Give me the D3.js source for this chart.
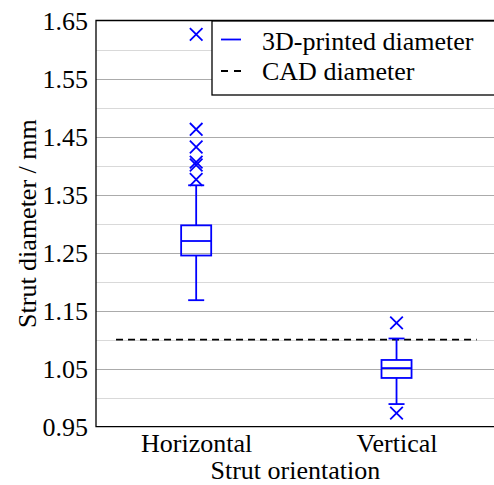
<!DOCTYPE html>
<html>
<head>
<meta charset="utf-8">
<script src="https://cdn.jsdelivr.net/npm/d3@7"></script>
</head>
<body style="margin:0">
<svg id="strut-box" width="494" height="485"></svg>
<script>
// categories and box statistics
const categories = ['Horizontal', 'Vertical'];
const lowerWhisker = [1.168, 0.989];
const q1 = [1.245, 1.034];
const median = [1.270, 1.051];
const q3 = [1.297, 1.065];
const upperWhisker = [1.366, 1.102];
const outliers = [
	[1.626, 1.4625, 1.432, 1.406, 1.401, 1.376],
	[1.129, 0.9735]
];
const cadDiameter = 1.1;
const majorTicks = [0.95, 1.05, 1.15, 1.25, 1.35, 1.45, 1.55, 1.65];
const minorTicks = [1.0, 1.1, 1.2, 1.3, 1.4, 1.5, 1.6];
const legendLabels = ['3D-printed diameter', 'CAD diameter'];

const blue = '#0000ff';
const fontSize = 26;
const plotLeft = 96, plotRight = 496.7, plotTop = 20.5, plotBottom = 426.7;

const svg = d3.select('#strut-box');

function serifText(sel) {
	sel.attr('font-size', fontSize).style('font-family', '"Liberation Serif"').attr('fill', '#000');
}

const x = d3.scalePoint().domain(categories).range([plotLeft, plotRight]).padding(0.5);
const xLin = d3.scaleLinear().domain([0.5, 2.5]).range([plotLeft, plotRight]);
const y = d3.scaleLinear().domain([0.95, 1.65]).range([plotBottom, plotTop]);

// grid
const grid = svg.append('g');
grid.selectAll('line.minor')
	.data(minorTicks)
	.join('line')
	.attr('class', 'minor')
	.attr('x1', plotLeft).attr('x2', plotRight)
	.attr('y1', (d) => Math.round(y(d)) + 0.5).attr('y2', (d) => Math.round(y(d)) + 0.5)
	.attr('stroke', '#d9d9d9').attr('stroke-width', 1.2);
grid.selectAll('line.major')
	.data(majorTicks.slice(1, -1))
	.join('line')
	.attr('class', 'major')
	.attr('x1', plotLeft).attr('x2', plotRight)
	.attr('y1', (d) => Math.round(y(d)) + 0.5).attr('y2', (d) => Math.round(y(d)) + 0.5)
	.attr('stroke', '#ababab').attr('stroke-width', 1.2);

// y tick labels
const yAxis = d3.axisLeft(y).tickValues(majorTicks).tickSize(0).tickPadding(8).tickFormat(d3.format('.2f'));
const gy = svg.append('g').attr('transform', `translate(${plotLeft},0)`).call(yAxis);
gy.attr('font-family', null).attr('font-size', null);
gy.select('.domain').remove();
gy.selectAll('text').attr('dy', '0.34em').call(serifText);

// x tick labels
const xAxis = d3.axisBottom(x).tickSize(0).tickPadding(0);
const gx = svg.append('g').attr('transform', `translate(0,${plotBottom})`).call(xAxis);
gx.attr('font-family', null).attr('font-size', null);
gx.select('.domain').remove();
gx.selectAll('text').attr('dy', null).attr('y', 25.5).call(serifText);

// frame
svg.append('path')
	.attr('d', `M${plotRight},${plotTop}H${plotLeft}V${plotBottom}H${plotRight}`)
	.attr('fill', 'none').attr('stroke', '#000').attr('stroke-width', 1.3);

// CAD line
svg.append('line')
	.attr('x1', xLin(0.6)).attr('x2', xLin(2.4))
	.attr('y1', y(cadDiameter)).attr('y2', y(cadDiameter))
	.attr('stroke', '#000').attr('stroke-width', 1.8).attr('stroke-dasharray', '7,5');

// boxes
const boxW = xLin(0.075) - xLin(0);
const capW = xLin(0.04) - xLin(0);
const boxes = svg.append('g').attr('stroke', blue).attr('stroke-width', 1.8).attr('fill', 'none');
categories.forEach((c, i) => {
	const cx = x(c);
	const g = boxes.append('g');
	g.append('line').attr('x1', cx).attr('x2', cx).attr('y1', y(q3[i])).attr('y2', y(upperWhisker[i]));
	g.append('line').attr('x1', cx).attr('x2', cx).attr('y1', y(q1[i])).attr('y2', y(lowerWhisker[i]));
	g.append('line').attr('x1', cx - capW).attr('x2', cx + capW).attr('y1', y(upperWhisker[i])).attr('y2', y(upperWhisker[i]));
	g.append('line').attr('x1', cx - capW).attr('x2', cx + capW).attr('y1', y(lowerWhisker[i])).attr('y2', y(lowerWhisker[i]));
	g.append('rect').attr('x', cx - boxW).attr('width', 2 * boxW)
		.attr('y', y(q3[i])).attr('height', y(q1[i]) - y(q3[i]));
	g.append('line').attr('x1', cx - boxW).attr('x2', cx + boxW).attr('y1', y(median[i])).attr('y2', y(median[i]));
	const s = 6.3;
	g.selectAll('path.out')
		.data(outliers[i])
		.join('path')
		.attr('class', 'out')
		.attr('d', (d) => `M${cx - s},${y(d) - s}L${cx + s},${y(d) + s}M${cx - s},${y(d) + s}L${cx + s},${y(d) - s}`);
});

// legend
const legend = svg.append('g').attr('transform', 'translate(212,21)');
legend.append('rect').attr('x', 0).attr('y', 0).attr('width', 300).attr('height', 74)
	.attr('fill', '#fff').attr('stroke', '#000').attr('stroke-width', 1.3);
legend.append('line').attr('x1', 9).attr('x2', 29).attr('y1', 18.5).attr('y2', 18.5)
	.attr('stroke', blue).attr('stroke-width', 1.8);
legend.append('line').attr('x1', 9).attr('x2', 29).attr('y1', 50).attr('y2', 50)
	.attr('stroke', '#000').attr('stroke-width', 1.8).attr('stroke-dasharray', '7,6');
legend.selectAll('text')
	.data(legendLabels)
	.join('text')
	.attr('x', 50)
	.attr('y', (d, i) => 28.5 + i * 30.5)
	.call(serifText)
	.text((d) => d);

// axis titles
svg.append('text')
	.attr('x', (plotLeft + plotRight) / 2 - 1).attr('y', 479)
	.attr('text-anchor', 'middle')
	.call(serifText)
	.text('Strut orientation');
svg.append('text')
	.attr('transform', `translate(36,${(plotTop + plotBottom) / 2}) rotate(-90)`)
	.attr('text-anchor', 'middle')
	.call(serifText)
	.text('Strut diameter / mm');
</script>
</body>
</html>
